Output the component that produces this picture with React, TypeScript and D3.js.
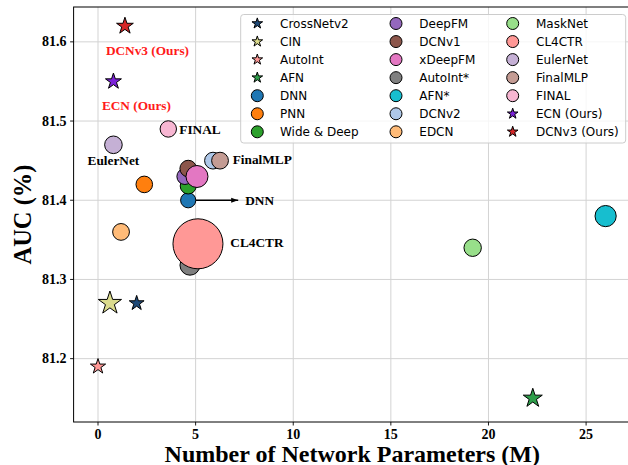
import React from "react";
import * as d3 from "d3";

// ---- Data ----
const models = [
  "CrossNetv2", "CIN", "AutoInt", "AFN", "DNN", "PNN", "Wide & Deep",
  "DeepFM", "DCNv1", "xDeepFM", "AutoInt*", "AFN*", "DCNv2", "EDCN",
  "MaskNet", "CL4CTR", "EulerNet", "FinalMLP", "FINAL", "ECN (Ours)", "DCNv3 (Ours)",
];
const params = [
  1.98, 0.61, 0.0, 22.27, 4.62, 2.37, 4.62,
  4.45, 4.62, 5.07, 4.71, 26.0, 5.89, 1.18,
  19.19, 5.12, 0.79, 6.25, 3.6, 0.79, 1.38,
];
const auc = [
  81.27, 81.27, 81.19, 81.15, 81.40, 81.42, 81.418,
  81.43, 81.44, 81.43, 81.318, 81.38, 81.45, 81.36,
  81.34, 81.345, 81.47, 81.45, 81.49, 81.55, 81.62,
];
const markerType = [
  "star", "star", "star", "star", "circle", "circle", "circle",
  "circle", "circle", "circle", "circle", "circle", "circle", "circle",
  "circle", "circle", "circle", "circle", "circle", "star", "star",
];
const xTicks = [0, 5, 10, 15, 20, 25];
const yTicks = [81.2, 81.3, 81.4, 81.5, 81.6];

// ---- Styles ----
const colors = [
  "#1f4a78", "#dbdb8d", "#ff9896", "#2e9e4a", "#1f77b4", "#ff7f0e", "#2ca02c",
  "#9467bd", "#8c564b", "#e377c2", "#7f7f7f", "#17becf", "#aec7e8", "#ffbb78",
  "#98df8a", "#ff9896", "#c5b0d5", "#c49c94", "#f7b6d2", "#7b22d8", "#d62728",
];
const sizes = [
  7.8, 12.2, 8.0, 10.0, 7.6, 8.3, 8.0,
  8.0, 8.3, 11.0, 10.0, 10.6, 8.4, 8.4,
  8.7, 25, 8.8, 8.4, 8.2, 8.4, 8.8,
];

const W = 628, H = 465;
const L = 73.6, R = 631, T = 7, B = 422;

function starPath(cx: number, cy: number, r: number) {
  const p = d3.path();
  const ri = r * 0.381966;
  for (let k = 0; k < 10; k++) {
    const a = -Math.PI / 2 + (k * Math.PI) / 5;
    const rr = k % 2 === 0 ? r : ri;
    const px = cx + rr * Math.cos(a), py = cy + rr * Math.sin(a);
    if (k === 0) p.moveTo(px, py); else p.lineTo(px, py);
  }
  p.closePath();
  return p.toString();
}

function Marker({ type, cx, cy, r, fill }: any) {
  if (type === "star")
    return <path d={starPath(cx, cy, r)} fill={fill} stroke="#000" strokeWidth={1} strokeLinejoin="miter" />;
  return <circle cx={cx} cy={cy} r={r} fill={fill} stroke="#000" strokeWidth={1} />;
}

export default function App() {
  const x = d3.scaleLinear().domain([-1.25, 27.3]).range([L, R]);
  const y = d3.scaleLinear().domain([81.12, 81.644]).range([B, T]);
  const serif = "'Liberation Serif', 'Times New Roman', serif";
  const sans = "'DejaVu Sans', sans-serif";

  const idx = (n: string) => models.indexOf(n);
  const P = (n: string) => ({ px: x(params[idx(n)]), py: y(auc[idx(n)]), r: sizes[idx(n)] });

  const labelStyle = { fontFamily: serif, fontWeight: 700, fontSize: 13.3 } as any;
  const oursStyle = { ...labelStyle, fill: "#ff1a1a" };

  const dnn = P("DNN");

  // legend
  const legX = 240.7, legY = 14.5, legW = 385, legH = 128.5;
  const colMarkerX = [257.3, 396, 512.7];
  const colTextX = [280, 419.3, 536];
  const rowY0 = 23.5, rowDY = 18.05;

  return (
    <svg width={W} height={H} style={{ position: "absolute", left: 0, top: 0, background: "#fff" }}>
      <defs>
        <clipPath id="plot"><rect x={L} y={T} width={R - L} height={B - T} /></clipPath>
        <marker id="arrow" viewBox="0 0 10 10" refX="10" refY="5" markerWidth="7" markerHeight="7" orient="auto" markerUnits="userSpaceOnUse">
          <path d="M0,1.5 L10,5 L0,8.5 z" fill="#000" />
        </marker>
      </defs>
      <rect x={0} y={0} width={W} height={H} fill="#fff" />
      {/* grid */}
      <g stroke="#d3d3d3" strokeWidth={1}>
        {xTicks.map((t) => <line key={"gx" + t} x1={x(t)} x2={x(t)} y1={T} y2={B} />)}
        {yTicks.map((t) => <line key={"gy" + t} x1={L} x2={R} y1={y(t)} y2={y(t)} />)}
      </g>
      {/* frame */}
      <rect x={L} y={T} width={R - L} height={B - T} fill="none" stroke="#000" strokeWidth={1} />
      {/* ticks */}
      <g stroke="#000" strokeWidth={0.9}>
        {xTicks.map((t) => <line key={"tx" + t} x1={x(t)} x2={x(t)} y1={B} y2={B + 3.5} />)}
        {yTicks.map((t) => <line key={"ty" + t} x1={L - 3.5} x2={L} y1={y(t)} y2={y(t)} />)}
      </g>
      <g style={{ fontFamily: serif, fontWeight: 700, fontSize: 14 }} fill="#000">
        {xTicks.map((t) => (
          <text key={"lx" + t} x={x(t)} y={B + 16.5} textAnchor="middle">{t}</text>
        ))}
        {yTicks.map((t) => (
          <text key={"ly" + t} x={L - 7} y={y(t)} textAnchor="end" dominantBaseline="central">{t.toFixed(1)}</text>
        ))}
      </g>
      {/* axis labels */}
      <text x={(L + R) / 2} y={461.5} textAnchor="middle" style={{ fontFamily: serif, fontWeight: 700, fontSize: 24 }}>
        Number of Network Parameters (M)
      </text>
      <text transform={`translate(31,${(T + B) / 2}) rotate(-90)`} textAnchor="middle" style={{ fontFamily: serif, fontWeight: 700, fontSize: 24.5 }}>
        AUC (%)
      </text>

      {/* points */}
      <g clipPath="url(#plot)">
        {models.map((m, i) => (
          <Marker key={m} type={markerType[i]} cx={x(params[i])} cy={y(auc[i])} r={sizes[i]} fill={colors[i]} />
        ))}
      </g>

      {/* annotations */}
      <line x1={dnn.px + dnn.r} y1={dnn.py} x2={dnn.px + 50} y2={dnn.py} stroke="#000" strokeWidth={1.5} markerEnd="url(#arrow)" />
      <text x={dnn.px + 57} y={dnn.py} dominantBaseline="central" style={labelStyle}>DNN</text>
      {(() => {
        const a = P("DCNv3 (Ours)"), b = P("ECN (Ours)"), f = P("FINAL"), e = P("EulerNet"), fm = P("FinalMLP"), c = P("CL4CTR");
        return (
          <g>
            <text x={a.px + 22.5} y={a.py + 24} textAnchor="middle" dominantBaseline="central" style={oursStyle}>DCNv3 (Ours)</text>
            <text x={b.px + 23} y={b.py + 23.6} textAnchor="middle" dominantBaseline="central" style={oursStyle}>ECN (Ours)</text>
            <text x={f.px + 11} y={f.py + 1} dominantBaseline="central" style={labelStyle}>FINAL</text>
            <text x={e.px} y={e.py + 16} textAnchor="middle" dominantBaseline="central" style={labelStyle}>EulerNet</text>
            <text x={fm.px + 12.7} y={fm.py - 1} dominantBaseline="central" style={labelStyle}>FinalMLP</text>
            <text x={c.px + c.r + 7.4} y={c.py - 1} dominantBaseline="central" style={labelStyle}>CL4CTR</text>
          </g>
        );
      })()}

      {/* legend */}
      <rect x={legX} y={legY} width={legW} height={legH} rx={3} fill="#fff" fillOpacity={0.8} stroke="#cccccc" strokeWidth={1} />
      <g style={{ fontFamily: sans, fontSize: 12 }} fill="#000">
        {models.map((m, i) => {
          const col = Math.floor(i / 7), row = i % 7;
          const cy = rowY0 + row * rowDY;
          return (
            <g key={"leg" + m}>
              <Marker type={markerType[i]} cx={colMarkerX[col]} cy={cy} r={markerType[i] === "star" ? 5.6 : 6} fill={colors[i]} />
              <text x={colTextX[col]} y={cy} dominantBaseline="central">{m}</text>
            </g>
          );
        })}
      </g>
    </svg>
  );
}
